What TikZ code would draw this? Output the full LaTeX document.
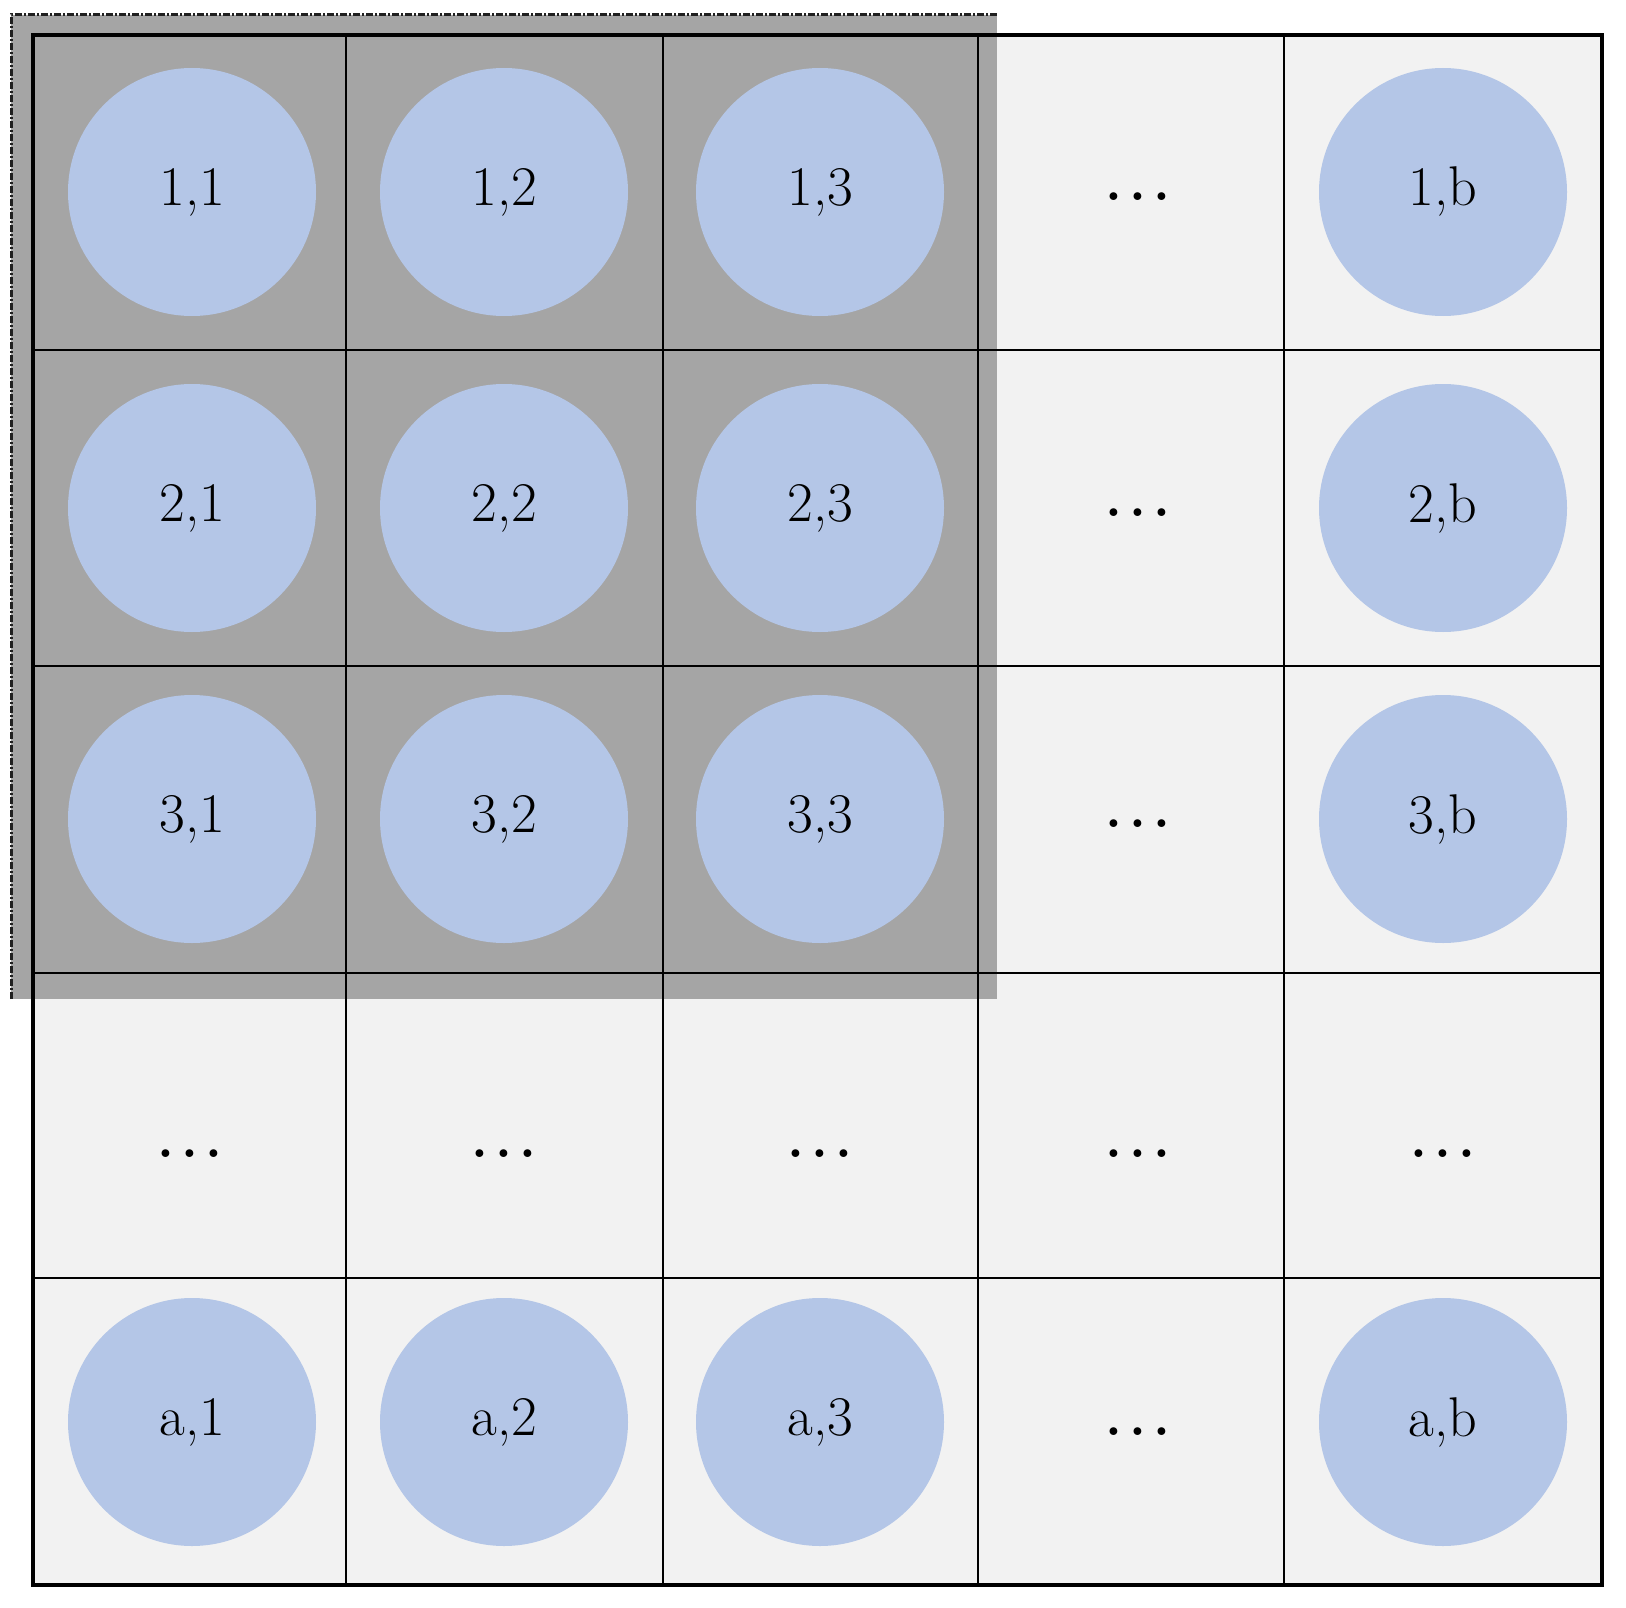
\documentclass[tikz,border=0pt]{standalone}
\definecolor{cellfill}{HTML}{F2F2F2}
\definecolor{grayover}{HTML}{A5A5A5}
\definecolor{dotblue}{HTML}{B4C6E7}
\newcommand{\cellell}{\bfseries.\kern0.14em.\kern0.14em.}
\begin{document}
\begin{tikzpicture}[x=1pt,y=-1pt,
  gridline/.style={line width=2.8pt,black},
  outerline/.style={line width=3.2pt,black},
  cellcircle/.style={circle,fill=dotblue,minimum size=248pt,inner sep=0pt,
     font=\fontsize{56}{62}\selectfont},
  ell/.style={inner sep=0pt,font=\fontsize{54}{60}\selectfont}]
\useasboundingbox (0,0) rectangle (1626,1608);
% cell background
\fill[cellfill] (33,35) rectangle (1602,1585);
% gray overlay
\fill[grayover] (11,15) rectangle (997,999);
\draw[line width=3pt,gray!25!black,dash pattern=on 7pt off 2pt on 2pt off 2pt] (11,999) -- (11,15) -- (997,15);
% grid lines
\foreach \x in {346,663,978,1284} \draw[gridline] (\x,35) -- (\x,1585);
\foreach \y in {350,666,973,1278} \draw[gridline] (33,\y) -- (1602,\y);
\draw[outerline] (33,35) rectangle (1602,1585);
% circles
\foreach \r/\y/\lab in {1/192/1,2/508/2,3/819/3,a/1422/a}{
  \foreach \c/\x/\clab in {1/192/1,2/504/2,3/820/3,b/1443/b}{
    \node[cellcircle] (c\r\c) at (\x,\y) {\lab,\clab};
  }
}
% ellipses
\foreach \r/\y in {1/197,2/513,3/824,a/1432}{
  \node[ell] (e\r) at (1138,\y) {\cellell};
}
\foreach \c/\x in {1/190,2/504,3/820,4/1138,5/1443}{
  \node[ell] (m\c) at (\x,1154) {\cellell};
}
\end{tikzpicture}
\end{document}
